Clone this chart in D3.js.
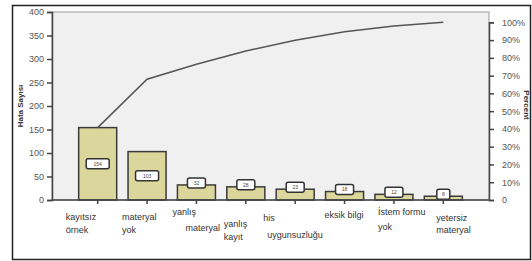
<!DOCTYPE html>
<html>
<head>
<meta charset="utf-8">
<script src="https://cdn.jsdelivr.net/npm/d3@7"></script>
<style>
  body { margin: 0; background: #fff; }
  text { font-family: "Liberation Sans", Arial, sans-serif; }
</style>
</head>
<body>
<div id="chart"></div>
<script>
// error types (two-line tick labels) and their counts
const categories = ["kayıtsız örnek", "materyal yok", "yanlış materyal", "yanlış kayıt",
  "his uygunsuzluğu", "eksik bilgi", "İstem formu yok", "yetersiz materyal"];
const labelLines = [["kayıtsız", "örnek"], ["materyal", "yok"], ["yanlış", "materyal"], ["yanlış", "kayıt"],
  ["his", "uygunsuzluğu"], ["eksik bilgi"], ["İstem formu", "yok"], ["yetersiz", "materyal"]];
const counts = [154, 103, 32, 28, 23, 18, 12, 8];
const countTicks = [0, 50, 100, 150, 200, 250, 300, 350, 400];
const percentTicks = [0, 0.1, 0.2, 0.3, 0.4, 0.5, 0.6, 0.7, 0.8, 0.9, 1];

// hand nudges for the staggered category labels [dx line1, dy line1, dx line2, dy line2]
const labelNudge = [[-32, 20, -32, 33], [-25, 20, -25, 33], [-24, 15, -11, 31], [-22, 27, -22, 40],
  [-32, 21, -28, 38], [-20, 18, 0, 0], [-16, 15, -16, 30], [-7, 21, -7, 33]];

const W = 532, H = 261;
const plot = { left: 52, right: 489, top: 12, bottom: 200 };

const svg = d3.select("#chart").append("svg")
  .attr("width", W)
  .attr("height", H);

// outer frame
svg.append("rect")
  .attr("x", 12.5).attr("y", 5.5)
  .attr("width", 518).attr("height", 254)
  .attr("fill", "#fff")
  .attr("stroke", "#222")
  .attr("stroke-width", 1.5);

// plot background
svg.append("rect")
  .attr("x", plot.left).attr("y", plot.top)
  .attr("width", plot.right - plot.left).attr("height", plot.bottom - plot.top)
  .attr("fill", "#f0f0f0")
  .attr("stroke", "#9a9a9a")
  .attr("stroke-width", 1);

const x = d3.scaleBand()
  .domain(categories)
  .range([plot.left + 21, plot.right - 21])
  .paddingInner(0.23)
  .paddingOuter(0.115);

const y = d3.scaleLinear()
  .domain([0, 400])
  .range([plot.bottom, plot.top]);

const total = d3.sum(counts);
const yPct = d3.scaleLinear()
  .domain([0, 1])
  .range([plot.bottom, y(total)]);

const data = categories.map((c, i) => ({
  cat: c,
  count: counts[i],
  cum: d3.sum(counts.slice(0, i + 1)) / total
}));

// bars
svg.append("g")
  .selectAll("rect")
  .data(data)
  .join("rect")
  .attr("x", d => x(d.cat))
  .attr("y", d => y(d.count))
  .attr("width", x.bandwidth())
  .attr("height", d => y(0) - y(d.count))
  .attr("fill", "#dbd79c")
  .attr("stroke", "#3a3a3a")
  .attr("stroke-width", 1.5);

// cumulative line
const line = d3.line()
  .x(d => x(d.cat) + x.bandwidth() / 2)
  .y(d => yPct(d.cum));

svg.append("path")
  .datum(data)
  .attr("d", line)
  .attr("fill", "none")
  .attr("stroke", "#555")
  .attr("stroke-width", 1.5);

// value boxes: centred in tall bars, sitting on top of short ones
const lab = svg.append("g")
  .selectAll("g")
  .data(data)
  .join("g")
  .attr("transform", d => {
    const cx = x(d.cat) + x.bandwidth() / 2;
    const h = y(0) - y(d.count);
    const cy = h > 25 ? y(d.count) + h / 2 : y(d.count) - 2;
    return `translate(${cx},${cy})`;
  });

lab.append("rect")
  .attr("x", d => -(String(d.count).length * 2.5 + 4))
  .attr("y", -5)
  .attr("width", d => String(d.count).length * 5 + 8)
  .attr("height", 10)
  .attr("rx", 2)
  .attr("fill", "#fff")
  .attr("stroke", "#333")
  .attr("stroke-width", 1.5);

lab.append("text")
  .attr("text-anchor", "middle")
  .attr("dy", "0.35em")
  .attr("font-size", 5)
  .attr("fill", "#444")
  .text(d => d.count);

// left axis
const gy = svg.append("g")
  .attr("transform", `translate(${plot.left},0)`)
  .call(d3.axisLeft(y).tickValues(countTicks).tickSize(5).tickPadding(3));
gy.select(".domain").attr("stroke", "#444").attr("stroke-width", 1.5);
gy.selectAll(".tick line").attr("stroke", "#444").attr("stroke-width", 1.5);
gy.selectAll(".tick text").attr("font-size", 9).attr("fill", "#555")
  .style("font-family", "Liberation Sans, Arial, sans-serif");

// right axis
const gr = svg.append("g")
  .attr("transform", `translate(${plot.right},0)`)
  .call(d3.axisRight(yPct).tickValues(percentTicks).tickSize(5).tickPadding(8)
    .tickFormat(d => d === 0 ? "0" : d3.format(".0%")(d)));
gr.select(".domain").attr("stroke", "#444").attr("stroke-width", 1.5);
gr.selectAll(".tick line").attr("stroke", "#444").attr("stroke-width", 1.5);
gr.selectAll(".tick text").attr("font-size", 9).attr("fill", "#555")
  .style("font-family", "Liberation Sans, Arial, sans-serif");

// bottom axis, labels added by hand for the stagger
const gx = svg.append("g")
  .attr("transform", `translate(0,${plot.bottom})`)
  .call(d3.axisBottom(x).tickSize(4).tickFormat(""));
gx.select(".domain").attr("stroke", "#444").attr("stroke-width", 1.5)
  .attr("d", `M${plot.left},0H${plot.right}`);
gx.selectAll(".tick line").attr("stroke", "#444").attr("stroke-width", 1.5);

gx.selectAll(".tick")
  .each(function(d, i) {
    const t = d3.select(this);
    const n = labelNudge[i];
    labelLines[i].forEach((s, j) => {
      t.append("text")
        .attr("x", n[j * 2])
        .attr("y", n[j * 2 + 1])
        .attr("text-anchor", "start")
        .attr("font-size", 9)
        .attr("fill", "#333")
        .style("font-family", "Liberation Sans, Arial, sans-serif")
        .text(s);
    });
  });

// axis titles
svg.append("text")
  .attr("transform", "translate(23,106) rotate(-90)")
  .attr("text-anchor", "middle")
  .attr("font-size", 8)
  .attr("font-weight", "bold")
  .attr("fill", "#333")
  .text("Hata Sayısı");

svg.append("text")
  .attr("transform", "translate(524,105) rotate(90)")
  .attr("text-anchor", "middle")
  .attr("font-size", 8)
  .attr("font-weight", "bold")
  .attr("fill", "#333")
  .text("Percent");
</script>
</body>
</html>
